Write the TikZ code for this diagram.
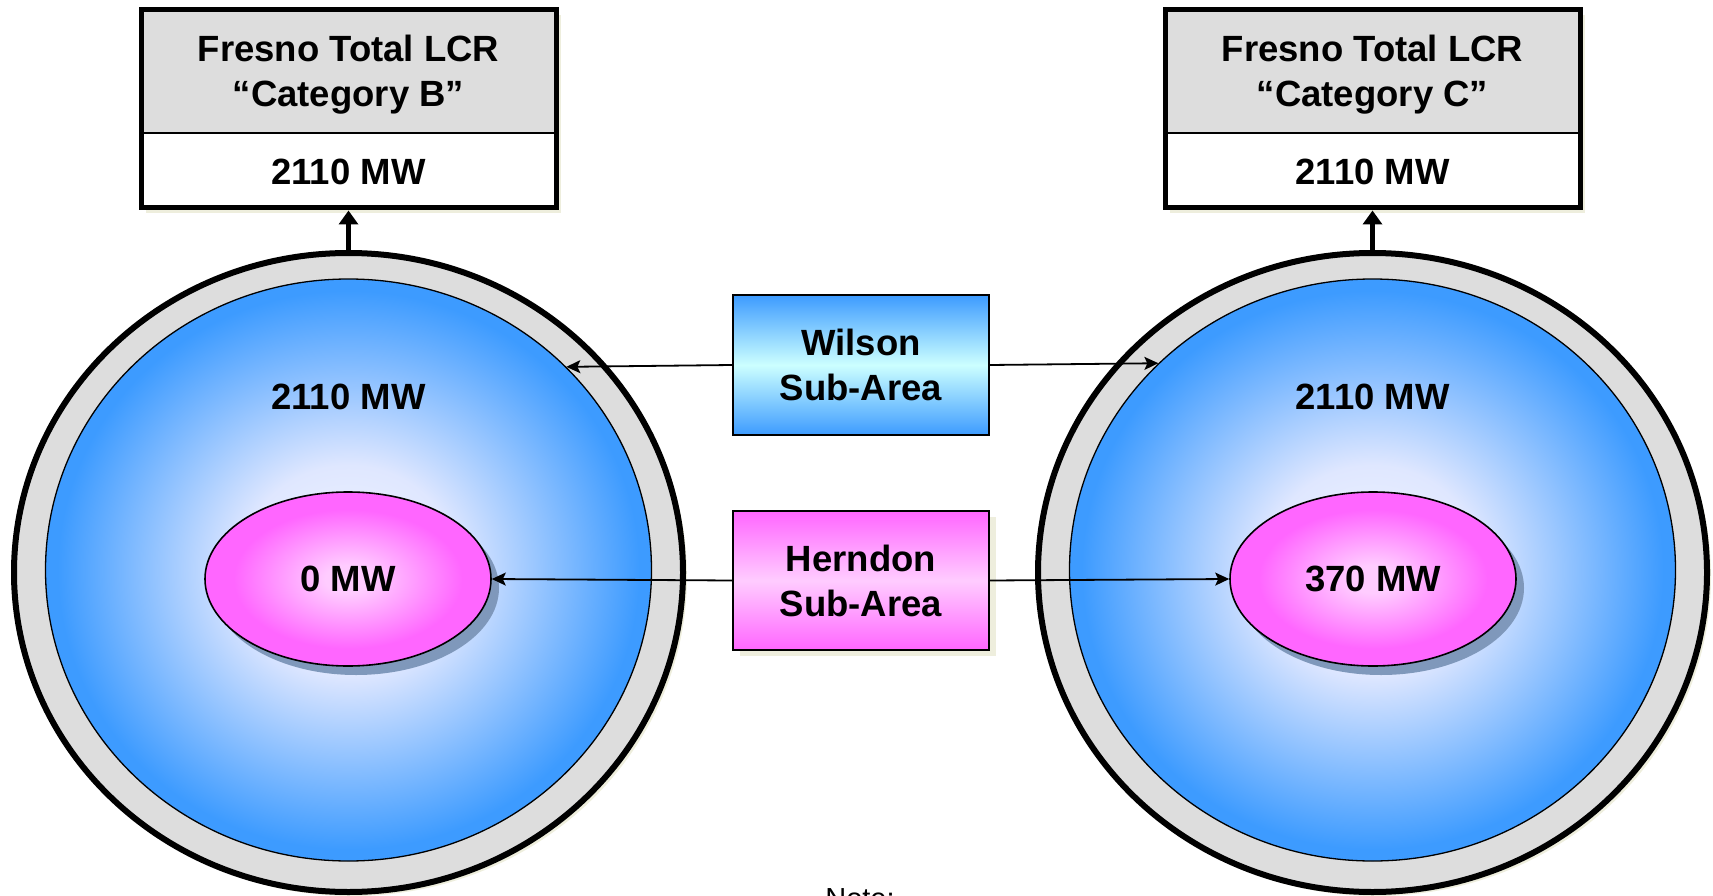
\documentclass[tikz,border=0pt]{standalone}
\usepackage{fontspec}
\setmainfont{Liberation Sans}
\usetikzlibrary{shapes.geometric,arrows.meta,calc,shadows}
\definecolor{boxgray}{HTML}{DDDDDD}
\definecolor{bblue}{HTML}{3D9BFF}
\definecolor{bcenter}{HTML}{F2F5FF}
\definecolor{bmid}{HTML}{DFE7FF}
\definecolor{mag}{HTML}{FF66FF}
\definecolor{pinkc}{HTML}{FFCCFF}
\definecolor{cyanc}{HTML}{CCFFFF}
\definecolor{beige}{HTML}{EEEEDD}
\definecolor{shblue}{HTML}{7F98BB}
\pgfdeclareradialshading{blueglow}{\pgfpoint{0bp}{0bp}}{color(0bp)=(bcenter); color(9bp)=(bmid); color(24bp)=(bblue); color(50bp)=(bblue)}
\pgfdeclareradialshading{magglow}{\pgfpoint{0bp}{0bp}}{color(0bp)=(pinkc); color(4bp)=(pinkc); color(20bp)=(mag); color(50bp)=(mag)}
\tikzset{
  big/.style={font=\fontsize{36.5}{45}\selectfont\bfseries, align=center},
  lcrbox/.style={rectangle, draw, line width=5pt, fill=white, minimum width=415pt, minimum height=198pt,
    inner sep=0pt, outer sep=2.5pt,
    drop shadow={shadow xshift=5pt, shadow yshift=-5pt, fill=beige, opacity=1},
    path picture={
      \fill[boxgray] (path picture bounding box.north west) rectangle ($(path picture bounding box.north east)+(0,123)$);
      \draw[line width=1.6pt] ($(path picture bounding box.north west)+(0,123)$) -- ($(path picture bounding box.north east)+(0,123)$);
    }},
  ring/.style={ellipse, draw, line width=6pt, fill=boxgray, minimum width=669pt, minimum height=639pt, inner sep=0pt,
    drop shadow={shadow xshift=4pt, shadow yshift=-4pt, fill=beige, opacity=1}},
  zone/.style={ellipse, draw, line width=1.3pt, shading=blueglow, minimum width=606pt, minimum height=582pt, inner sep=0pt},
  subzone/.style={ellipse, draw, line width=1.6pt, shading=magglow, minimum width=286pt, minimum height=174pt, inner sep=0pt,
    drop shadow={shadow xshift=8pt, shadow yshift=-9pt, fill=shblue, opacity=1}},
  wilbox/.style={rectangle, draw, line width=1.6pt, minimum width=256pt, minimum height=140pt, inner sep=0pt, big,
    top color=bblue, bottom color=bblue, middle color=cyanc},
  herbox/.style={rectangle, draw, line width=1.6pt, minimum width=256pt, minimum height=139pt, inner sep=0pt, big,
    drop shadow={shadow xshift=7pt, shadow yshift=-6pt, fill=beige, opacity=1},
    top color=mag, bottom color=mag, middle color=pinkc},
  uparrow/.style={line width=5pt, -{Triangle[width=19pt,length=14pt]}},
  thinarrow/.style={line width=1.8pt, -{Stealth[length=14pt,width=13pt,inset=3pt]}}
}
\begin{document}
\begin{tikzpicture}[x=1pt, y=-1pt]
\useasboundingbox (0,0) rectangle (1713,896);
% left group (Category B)
\node[ring] (ringB) at (348.5,572.5) {};
\node[zone] (zoneB) at (348.5,570) {};
\node[subzone] (subB) at (348,579) {};
\node[big] (valzB) at (348.5,397) {2110 MW};
\node[big] (valsB) at (348,578.5) {0 MW};
\node[lcrbox] (boxB) at (348.5,109) {};
\node[big] (hdrB) at (348.5,75) {Fresno Total LCR\\“Category B”};
\node[big] (valB) at (348.5,172) {2110 MW};
\draw[uparrow] (ringB.north) -- (boxB.south);
% right group (Category C)
\node[ring] (ringC) at (1372.5,572.5) {};
\node[zone] (zoneC) at (1372.5,570) {};
\node[subzone] (subC) at (1373,579) {};
\node[big] (valzC) at (1372.5,397) {2110 MW};
\node[big] (valsC) at (1373,578.5) {370 MW};
\node[lcrbox] (boxC) at (1372.5,109) {};
\node[big] (hdrC) at (1372.5,75) {Fresno Total LCR\\“Category C”};
\node[big] (valC) at (1372.5,172) {2110 MW};
\draw[uparrow] (ringC.north) -- (boxC.south);
% sub-area legend boxes
\node[wilbox] (wil) at (861,365) {Wilson\\Sub-Area};
\node[herbox] (her) at (861,580.5) {Herndon\\Sub-Area};
\draw[thinarrow] (wil.west) -- (zoneB.43.64);
\draw[thinarrow] (wil.east) -- (zoneC.136.36);
\draw[thinarrow] (her.west) -- (subB.east);
\draw[thinarrow] (her.east) -- (subC.west);
% note (cut by the page edge, as in the reference)
\node[font=\fontsize{29}{35}\selectfont, anchor=base] (note) at (860,908) {Note:};
\end{tikzpicture}
\end{document}
